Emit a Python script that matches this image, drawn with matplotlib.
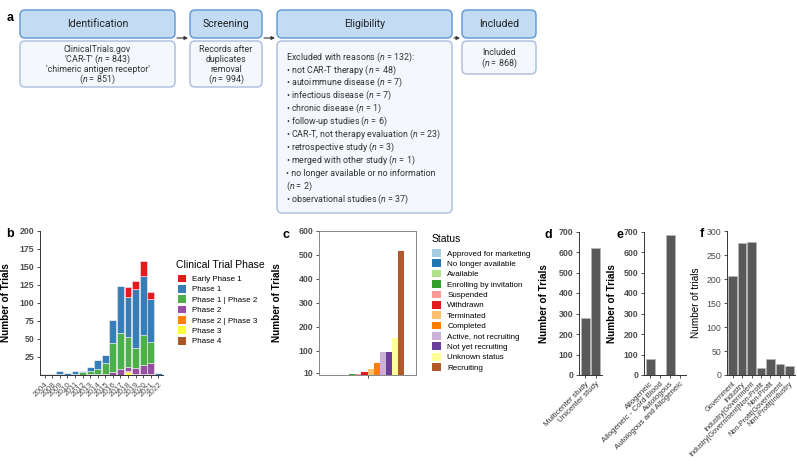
import matplotlib
matplotlib.use("Agg")
import matplotlib.pyplot as plt
from matplotlib.patches import FancyBboxPatch, Patch
import numpy as np

plt.rcParams['font.family'] = ['Liberation Sans', 'DejaVu Sans']
plt.rcParams['mathtext.fontset'] = 'custom'
plt.rcParams['mathtext.it'] = 'Roboto:italic'
plt.rcParams['mathtext.rm'] = 'Roboto'

W, H = 797, 467

# ---- panel b: phase per year
years = ["2004", "2008", "2009", "2010", "2011", "2012", "2013", "2014",
         "2015", "2016", "2017", "2018", "2019", "2020", "2021", "2022"]
early_phase1 = [0, 0, 0, 0, 0, 0, 0, 0, 0, 0, 0, 13, 12, 21, 9, 0]
phase1 = [1, 2, 3, 3, 4, 2, 6, 12, 12, 32, 66, 56, 81, 83, 60, 3]
phase1_2 = [0, 0, 2, 0, 2, 4, 4, 8, 15, 40, 50, 42, 28, 41, 30, 0]
phase2 = [0, 0, 0, 0, 0, 0, 1, 1, 1, 4, 8, 6, 8, 12, 14, 0]
phase2_3 = [0, 0, 0, 0, 0, 0, 0, 0, 0, 0, 0, 1, 0, 1, 0, 0]
phase3 = [0, 0, 0, 0, 0, 0, 0, 0, 0, 0, 0, 4, 0, 0, 2, 0]
phase4 = [0, 0, 0, 0, 0, 0, 0, 0, 0, 0, 0, 0, 2, 1, 0, 0]
phase_names = ["Early Phase 1", "Phase 1", "Phase 1 | Phase 2", "Phase 2",
               "Phase 2 | Phase 3", "Phase 3", "Phase 4"]
phase_colors = ["#E41A1C", "#377EB8", "#4DAF4A", "#984EA3", "#FF7F00", "#FFFF33", "#A65628"]

# ---- panel c: status
statuses = ["Approved for marketing", "No longer available", "Available",
            "Enrolling by invitation", "Suspended", "Withdrawn", "Terminated",
            "Completed", "Active, not recruiting", "Not yet recruiting",
            "Unknown status", "Recruiting"]
status_counts = [1, 1, 2, 4, 3, 14, 26, 50, 95, 97, 156, 516]
status_colors = ["#A6CEE3", "#1F78B4", "#B2DF8A", "#33A02C", "#FB9A99", "#E31A1C",
                 "#FDBF6F", "#FF7F00", "#CAB2D6", "#6A3D9A", "#FFFF99", "#B15928"]

# ---- panels d, e, f
center_labels = ["Multicenter study", "Unicenter study"]
center_counts = [278, 620]
source_labels = ["Allogeneic", "Allogeneic - Cord Blood", "Autologous",
                 "Autologous and Allogeneic"]
source_counts = [78, 1, 685, 2]
funder_labels = ["Government", "Industry", "Industry|Government",
                 "Industry|Government|Non-Profit", "Non-Profit",
                 "Non-Profit|Government", "Non-Profit|Industry"]
funder_counts = [207, 277, 279, 15, 33, 24, 19]

fig = plt.figure(figsize=(W / 100, H / 100), dpi=100)


def px_axes(x0, y0, x1, y1):
    return fig.add_axes([x0 / W, 1 - y1 / H, (x1 - x0) / W, (y1 - y0) / H])


# ---------------- panel a: flow chart ----------------
ax0 = fig.add_axes([0, 0, 1, 1])
ax0.set_xlim(0, W)
ax0.set_ylim(H, 0)
ax0.axis('off')
ax0.patch.set_alpha(0)

HEAD_FC, HEAD_EC = "#C3DBF3", "#5D95D3"
BODY_FC, BODY_EC = "#F4F7FC", "#A8BCDD"
FLOW_FONT = ['Roboto', 'DejaVu Sans']
BODY_FS = 6.4


def box(x0, y0, x1, y1, fc, ec):
    ax0.add_patch(FancyBboxPatch((x0, y0), x1 - x0, y1 - y0,
                                 boxstyle="round,pad=0,rounding_size=5",
                                 fc=fc, ec=ec, lw=1.0))


columns = [
    (20, 175, "Identification", 87),
    (190, 262, "Screening", 87),
    (277, 452, "Eligibility", 213),
    (462, 536, "Included", 74),
]
for x0, x1, title, bottom in columns:
    box(x0, 10, x1, 38, HEAD_FC, HEAD_EC)
    box(x0, 41, x1, bottom, BODY_FC, BODY_EC)
    ax0.text((x0 + x1) / 2, 24, title, ha='center', va='center',
             fontsize=7.6, family=FLOW_FONT, color='#222222')

ident = ["ClinicalTrials.gov", r"'CAR-T' ($\mathit{n}$ = 843)",
         "'chimeric antigen receptor'", r"($\mathit{n}$ = 851)"]
screen = ["Records after", "duplicates", "removal", r"($\mathit{n}$ = 994)"]
for i, (a, b) in enumerate(zip(ident, screen)):
    ax0.text(97.5, 50 + i * 9.8, a, ha='center', va='center', fontsize=BODY_FS,
             family=FLOW_FONT, color='#333333')
    ax0.text(226, 50 + i * 9.8, b, ha='center', va='center', fontsize=BODY_FS,
             family=FLOW_FONT, color='#333333')

elig = [r"Excluded with reasons ($\mathit{n}$ = 132):",
        r"• not CAR-T therapy ($\mathit{n}$ = 48)",
        r"• autoimmune disease ($\mathit{n}$ = 7)",
        r"• infectious disease ($\mathit{n}$ = 7)",
        r"• chronic disease ($\mathit{n}$ = 1)",
        r"• follow-up studies ($\mathit{n}$ = 6)",
        r"• CAR-T, not therapy evaluation ($\mathit{n}$ = 23)",
        r"• retrospective study ($\mathit{n}$ = 3)",
        r"• merged with other study ($\mathit{n}$ = 1)",
        r"• no longer available or no information",
        r"($\mathit{n}$ = 2)",
        r"• observational studies ($\mathit{n}$ = 37)"]
for i, t in enumerate(elig):
    ax0.text(286.5, 57 + i * 12.9, t, ha='left', va='center', fontsize=BODY_FS,
             family=FLOW_FONT, color='#333333')

ax0.text(499, 52.5, "Included", ha='center', va='center', fontsize=BODY_FS,
         family=FLOW_FONT, color='#333333')
ax0.text(499, 63, r"($\mathit{n}$ = 868)", ha='center', va='center', fontsize=BODY_FS,
         family=FLOW_FONT, color='#333333')

for xa, xb in [(177, 188), (264, 275), (454, 460)]:
    ax0.annotate("", xy=(xb, 38), xytext=(xa, 38),
                 arrowprops=dict(arrowstyle="-|>", color='#333333', lw=0.8,
                                 mutation_scale=5, shrinkA=0, shrinkB=0))

ax0.text(10, 18, "a", ha='center', va='center', fontsize=9, fontweight='bold')
for lab, x, y in [("b", 10, 234), ("c", 286, 235), ("d", 548, 235),
                  ("e", 620, 235), ("f", 702, 234)]:
    ax0.text(x, y, lab, ha='center', va='center', fontsize=9, fontweight='bold')

# legend titles placed by hand
ax0.text(176, 264.5, "Clinical Trial Phase", ha='left', va='center', fontsize=7.5)
ax0.text(431.5, 239, "Status", ha='left', va='center', fontsize=7.5)


def style_axes(ax, bold=True, full_box=False):
    for s in ['top', 'right']:
        ax.spines[s].set_visible(full_box)
    for s in ax.spines.values():
        s.set_linewidth(0.7)
        s.set_color('#888888' if full_box else '#333333')
    ax.tick_params(length=2.5, width=0.6, color='#333333', pad=1.5)
    ax.tick_params(axis='y', labelsize=6.3, labelcolor='#4D4D4D')
    if bold:
        for t in ax.get_yticklabels():
            t.set_fontweight('bold')


LEG_KW = dict(loc='upper left', bbox_transform=fig.transFigure, frameon=False,
              fontsize=5.8, handlelength=1.1, handleheight=1.1, handletextpad=0.75,
              labelspacing=0.22, borderpad=0, borderaxespad=0)

# ---------------- panel b ----------------
axb = px_axes(40, 231, 163, 375)
x = np.arange(len(years))
stack = [phase4, phase3, phase2_3, phase2, phase1_2, phase1, early_phase1]
stack_cols = phase_colors[::-1]
bottom = np.zeros(len(years))
for vals, col in zip(stack, stack_cols):
    axb.bar(x, vals, bottom=bottom, width=0.9, color=col, edgecolor='#EEEEEE', lw=0.4)
    bottom += np.array(vals)
axb.set_xlim(-0.6, len(years) - 0.4)
axb.set_ylim(0, 200)
axb.set_yticks([25, 50, 75, 100, 125, 150, 175, 200])
axb.set_xticks(x)
axb.set_xticklabels(years, rotation=45, ha='right', rotation_mode='anchor',
                    fontsize=5.8, color='#4D4D4D')
style_axes(axb)
axb.set_ylabel("Number of Trials", fontsize=7.2, fontweight='bold')
axb.yaxis.set_label_coords((11 - 40) / 123, 0.5)
axb.legend([Patch(fc=c, ec='none') for c in phase_colors], phase_names,
           bbox_to_anchor=(177.5 / W, 1 - 274.5 / H), **LEG_KW)

# ---------------- panel c ----------------
axc = px_axes(319, 231, 416, 375)
n = len(statuses)
w = 0.9 / n
for i, (v, col) in enumerate(zip(status_counts, status_colors)):
    axc.bar(1 + (i - (n - 1) / 2) * w, v, width=w, color=col)
axc.set_xlim(0.4, 1.6)
axc.set_ylim(0, 600)
axc.set_yticks([10, 100, 200, 300, 400, 500, 600])
axc.set_xticks([1])
axc.set_xticklabels([""])
style_axes(axc, full_box=True)
axc.set_ylabel("Number of Trials", fontsize=7.2, fontweight='bold')
axc.yaxis.set_label_coords((282 - 319) / 97, 0.5)
axc.legend([Patch(fc=c, ec='none') for c in status_colors], statuses,
           bbox_to_anchor=(432.3 / W, 1 - 249 / H), **LEG_KW)


# ---------------- panels d, e, f ----------------
def simple_bars(ax, labels, vals, ymax, step, ylab, lab_x, bold=True, fs=5.7):
    xx = np.arange(len(labels))
    ax.bar(xx, vals, width=0.9, color='#595959', edgecolor='#BBBBBB', lw=0.4)
    ax.set_xlim(-0.6, len(labels) - 0.4)
    ax.set_ylim(0, ymax)
    ax.set_yticks(np.arange(0, ymax + 1, step))
    ax.set_xticks(xx)
    ax.set_xticklabels(labels, rotation=45, ha='right', rotation_mode='anchor',
                       fontsize=fs, color='#333333')
    style_axes(ax, bold=bold)
    ax.set_ylabel(ylab, fontsize=7.2, fontweight='bold' if bold else 'normal')
    x0 = ax.get_position().x0 * W
    wd = ax.get_position().width * W
    ax.yaxis.set_label_coords((lab_x - x0) / wd, 0.5)


axd = px_axes(579, 231.5, 602, 375)
simple_bars(axd, center_labels, center_counts, 700, 100, "Number of Trials", 549)
axe = px_axes(644, 231.5, 686, 375)
simple_bars(axe, source_labels, source_counts, 700, 100, "Number of Trials", 617)
axf = px_axes(727, 231.5, 795, 375)
simple_bars(axf, funder_labels, funder_counts, 300, 50, "Number of trials", 701,
            bold=False, fs=5.2)

fig.savefig("out.png", dpi=100)
